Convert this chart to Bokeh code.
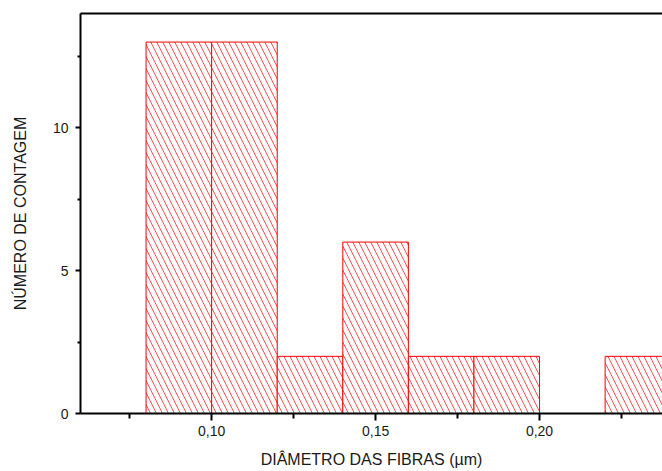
from bokeh.plotting import figure
from bokeh.models import Range1d, FixedTicker, LinearAxis
from bokeh.embed import file_html
from bokeh.resources import INLINE

# Histogram data (bin edges in µm, counts)
bin_left = [0.08, 0.10, 0.12, 0.14, 0.16, 0.18, 0.20, 0.22]
bin_right = [0.10, 0.12, 0.14, 0.16, 0.18, 0.20, 0.22, 0.24]
counts = [13, 13, 2, 6, 2, 2, 0, 2]

x_major = [0.10, 0.15, 0.20, 0.25]
x_minor = [0.075, 0.125, 0.175, 0.225]
x_labels = {0.10: "0,10", 0.15: "0,15", 0.20: "0,20", 0.25: "0,25"}
y_major = [0, 5, 10]
y_minor = [2.5, 7.5, 12.5]

FONT = "Liberation Sans"

p = figure(width=662, height=471, output_backend="svg", toolbar_location=None,
           x_range=Range1d(0.06, 0.2375), y_range=Range1d(0, 14),
           min_border_left=80, min_border_right=0, min_border_top=13, min_border_bottom=58)
p.outline_line_color = None
p.xgrid.visible = False
p.ygrid.visible = False
p.background_fill_color = "white"
p.border_fill_color = "white"

p.quad(left=bin_left, right=bin_right, bottom=0, top=counts,
       fill_color="white", line_color="#ff0000", line_width=1,
       hatch_pattern="\\", hatch_color="#ff5050", hatch_scale=12, hatch_weight=1)

for ax in (p.xaxis[0], p.yaxis[0]):
    ax.axis_line_color = "black"
    ax.axis_line_width = 2
    ax.major_tick_line_color = "black"
    ax.major_tick_line_width = 2
    ax.minor_tick_line_color = "black"
    ax.minor_tick_line_width = 2
    ax.major_tick_in = 0
    ax.minor_tick_in = 0
    ax.major_label_text_font = FONT
    ax.major_label_text_font_size = "14px"
    ax.major_label_text_color = "#1a1a1a"
    ax.axis_label_text_font = FONT
    ax.axis_label_text_font_style = "normal"
    ax.axis_label_text_color = "#1a1a1a"

p.xaxis[0].ticker = FixedTicker(ticks=x_major, minor_ticks=x_minor)
p.xaxis[0].major_label_overrides = x_labels
p.xaxis[0].major_tick_out = 7
p.xaxis[0].minor_tick_out = 5
p.xaxis[0].major_label_standoff = 5
p.xaxis[0].axis_label = "DIÂMETRO DAS FIBRAS (µm)"
p.xaxis[0].axis_label_text_font_size = "16px"
p.xaxis[0].axis_label_standoff = 12

p.yaxis[0].ticker = FixedTicker(ticks=y_major, minor_ticks=y_minor)
p.yaxis[0].major_tick_out = 5
p.yaxis[0].minor_tick_out = 3
p.yaxis[0].major_label_standoff = 7
p.yaxis[0].axis_label = "NÚMERO DE CONTAGEM"
p.yaxis[0].axis_label_text_font_size = "16px"
p.yaxis[0].axis_label_standoff = 21

top = LinearAxis(ticker=FixedTicker(ticks=[]), axis_line_color="black", axis_line_width=2,
                 major_tick_line_color=None, minor_tick_line_color=None,
                 major_label_text_font_size="0px")
p.add_layout(top, "above")

open("out.html", "w").write(file_html(p, INLINE))
